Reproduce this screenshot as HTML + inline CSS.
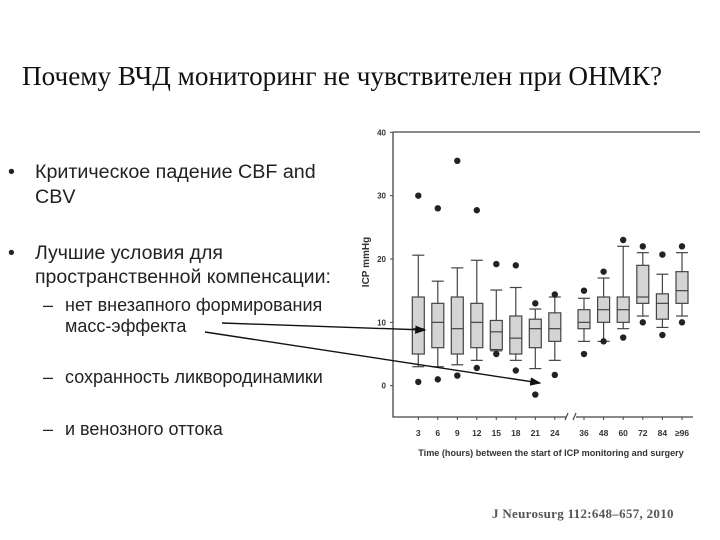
<!DOCTYPE html>
<html><head><meta charset="utf-8"><style>
body{margin:0;width:720px;height:540px;background:#fff;overflow:hidden;position:relative;font-family:"Liberation Sans",sans-serif}
.t{position:absolute;white-space:nowrap;color:#222}
.d{position:absolute;left:0}
</style></head><body>
<div class="t" style="left:22px;top:61px;font-family:'Liberation Serif',serif;font-size:27.2px;line-height:30px;color:#111">Почему ВЧД мониторинг не чувствителен при ОНМК?</div>
<div class="t" style="left:35px;top:160px;font-size:19.7px;line-height:25px"><span class="d" style="left:-27px">•</span>Критическое падение CBF and<br>CBV</div>
<div class="t" style="left:35px;top:241px;font-size:19.5px;line-height:24px"><span class="d" style="left:-27px">•</span>Лучшие условия для<br>пространственной компенсации:</div>
<div class="t" style="left:65px;top:295px;font-size:18px;line-height:21px"><span class="d" style="left:-22px">–</span>нет внезапного формирования<br>масс-эффекта</div>
<div class="t" style="left:65px;top:367px;font-size:18px;line-height:21px"><span class="d" style="left:-22px">–</span>сохранность ликвородинамики</div>
<div class="t" style="left:65px;top:419px;font-size:18px;line-height:21px"><span class="d" style="left:-22px">–</span>и венозного оттока</div>
<div class="t" style="left:492px;top:506px;font-family:'Liberation Serif',serif;font-size:13px;color:#555;font-weight:bold;letter-spacing:0.3px">J Neurosurg 112:648–657, 2010</div>
<svg id="c" width="720" height="540" style="position:absolute;left:0;top:0"></svg>
<script>
const categories=["3","6","9","12","15","18","21","24","36","48","60","72","84","≥96"];
const whiskerLow=[3,3,3.3,4,5.5,4,2.7,4,7,7,9,11,9.2,11];
const q1=[5,6,5,6,5.7,5,6,7,9,10,10,13,10.5,13];
const median=[9,10,9,10,8.5,7.5,9,9,10,12,12,14,13,15];
const q3=[14,13,14,13,10.3,11,10.5,11.5,12,14,14,19,14.5,18];
const whiskerHigh=[20.6,16.5,18.6,19.8,15.1,15.5,12.1,14,13.8,17,22,21,17.6,21];
const outHigh=[30,28,35.5,27.7,19.2,19,13,14.4,15,18,23,22,20.7,22];
const outLow=[0.6,1,1.6,2.8,5,2.4,-1.4,1.7,5,7,7.6,10,8,10];
const yTicks=[0,10,20,30,40];
const svg=document.getElementById('c');const NS='http://www.w3.org/2000/svg';
function el(t,a,p){const e=document.createElementNS(NS,t);for(const k in a)e.setAttribute(k,a[k]);(p||svg).appendChild(e);return e;}
const y=v=>385.7-v*6.335;
const x=i=>i<8?418.3+i*19.5:584+(i-8)*19.6;
let e;
e=el('path',{d:'M393 132 H700 M393 132 V417 H566 M576 417 H693',stroke:'#444','stroke-width':1.3,fill:'none'});

e=el('path',{d:'M565 420 L568 413 M573 420 L576 413',stroke:'#444','stroke-width':1.2,fill:'none'});

yTicks.forEach(v=>{
 el('line',{x1:390,x2:393,y1:y(v),y2:y(v),stroke:'#444'});
 e=el('text',{x:386,y:y(v)+3,'text-anchor':'end','font-size':8,'font-weight':'bold',fill:'#333','font-family':'Liberation Sans'});
 e.textContent=v;
});
e=el('text',{x:0,y:0,transform:'translate(369,262) rotate(-90)','text-anchor':'middle','font-size':10,'font-weight':'bold',fill:'#333','font-family':'Liberation Sans'});
e.textContent='ICP mmHg';
e=el('text',{x:551,y:456,'text-anchor':'middle','font-size':9.1,'font-weight':'bold',fill:'#333','font-family':'Liberation Sans'});
e.textContent='Time (hours) between the start of ICP monitoring and surgery';
categories.forEach((c,i)=>{
 const cx=x(i),w=6,g=el('g',{});
 
 el('line',{x1:cx,x2:cx,y1:y(whiskerLow[i]),y2:y(whiskerHigh[i]),stroke:'#444','stroke-width':1.2},g);
 el('line',{x1:cx-w,x2:cx+w,y1:y(whiskerLow[i]),y2:y(whiskerLow[i]),stroke:'#444','stroke-width':1.2},g);
 el('line',{x1:cx-w,x2:cx+w,y1:y(whiskerHigh[i]),y2:y(whiskerHigh[i]),stroke:'#444','stroke-width':1.2},g);
 el('rect',{x:cx-w,y:y(q3[i]),width:2*w,height:y(q1[i])-y(q3[i]),fill:'#d4d4d4',stroke:'#444','stroke-width':1.2},g);
 el('line',{x1:cx-w,x2:cx+w,y1:y(median[i]),y2:y(median[i]),stroke:'#444','stroke-width':1.2},g);
 el('circle',{cx:cx,cy:y(outHigh[i]),r:3.2,fill:'#222'},g);
 el('circle',{cx:cx,cy:y(outLow[i]),r:3.2,fill:'#222'},g);
 el('line',{x1:cx,x2:cx,y1:417,y2:420,stroke:'#444'},g);
 e=el('text',{x:cx,y:436,'text-anchor':'middle','font-size':8.5,'font-weight':'bold',fill:'#333','font-family':'Liberation Sans'});
 e.textContent=c;
});
el('defs',{}).innerHTML='<marker id="ah" markerWidth="8" markerHeight="6" refX="7" refY="3" orient="auto"><path d="M0 0 L8 3 L0 6Z" fill="#111"/></marker>';
e=el('line',{x1:222,y1:323,x2:425,y2:330,stroke:'#111','stroke-width':1.4,'marker-end':'url(#ah)'});

e=el('line',{x1:205,y1:332,x2:540,y2:383,stroke:'#111','stroke-width':1.4,'marker-end':'url(#ah)'});

</script>
</body></html>
